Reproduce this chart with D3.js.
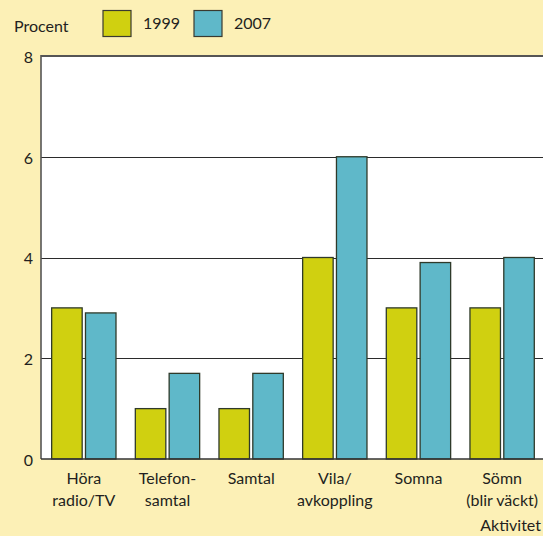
<!DOCTYPE html>
<html>
<head>
<meta charset="utf-8">
<script src="https://cdn.jsdelivr.net/npm/d3@7"></script>
<style>
  html, body { margin: 0; padding: 0; background: #fcf0b6; }
  svg { display: block; }
  text { font-family: Lato, "Open Sans", sans-serif; fill: #231f20; }
</style>
</head>
<body>
<svg id="chart" width="543" height="536"></svg>
<script>
// Activities (two-line labels) and the share per year, in percent
const categories = [
  ["Höra", "radio/TV"],
  ["Telefon-", "samtal"],
  ["Samtal"],
  ["Vila/", "avkoppling"],
  ["Somna"],
  ["Sömn", "(blir väckt)"]
];
const years = ["1999", "2007"];
const values1999 = [3, 1, 1, 4, 3, 3];
const values2007 = [2.9, 1.7, 1.7, 6, 3.9, 4];
const yTicks = [0, 2, 4, 6, 8];
const colors = { "1999": "#d0d010", "2007": "#5fb8c9" };

const series = { "1999": values1999, "2007": values2007 };
const svg = d3.select("#chart");

const plotLeft = 41, plotTop = 56, plotBottom = 459, plotRight = 560;
const fontSize = 16;

const x = d3.scaleBand()
  .domain(categories.map((d, i) => i))
  .range([42, 42 + 83.66 * 6])
  .paddingInner(0.231)
  .paddingOuter(0.1155);

const xInner = d3.scaleBand()
  .domain(years)
  .range([0, x.bandwidth()])
  .paddingInner(0.098);

const y = d3.scaleLinear().domain([0, 8]).range([plotBottom, plotTop]);

// plot background
svg.append("rect")
  .attr("x", plotLeft).attr("y", plotTop)
  .attr("width", plotRight - plotLeft).attr("height", plotBottom - plotTop)
  .attr("fill", "#ffffff");

// gridlines
svg.append("g")
  .selectAll("line")
  .data(yTicks.filter(t => t > 0 && t < 8))
  .join("line")
  .attr("x1", plotLeft).attr("x2", plotRight)
  .attr("y1", d => Math.round(y(d)) + 0.5)
  .attr("y2", d => Math.round(y(d)) + 0.5)
  .attr("stroke", "#2b2b2b").attr("stroke-width", 1.2);

// bars
const groups = svg.append("g")
  .selectAll("g")
  .data(categories)
  .join("g")
  .attr("transform", (d, i) => `translate(${x(i)},0)`);

groups.selectAll("rect")
  .data((d, i) => years.map(yr => ({ yr, v: series[yr][i] })))
  .join("rect")
  .attr("x", d => xInner(d.yr))
  .attr("width", xInner.bandwidth())
  .attr("y", d => y(d.v))
  .attr("height", d => plotBottom - y(d.v))
  .attr("fill", d => colors[d.yr])
  .attr("stroke", "#2f3a2a")
  .attr("stroke-width", 1.3);

// frame: top and left borders, baseline
svg.append("line")
  .attr("x1", plotLeft).attr("x2", plotRight)
  .attr("y1", plotTop).attr("y2", plotTop)
  .attr("stroke", "#555").attr("stroke-width", 2);
svg.append("line")
  .attr("x1", plotLeft).attr("x2", plotLeft)
  .attr("y1", plotTop - 1).attr("y2", plotBottom)
  .attr("stroke", "#555").attr("stroke-width", 1.6);
svg.append("line")
  .attr("x1", plotLeft).attr("x2", plotRight)
  .attr("y1", plotBottom).attr("y2", plotBottom)
  .attr("stroke", "#333").attr("stroke-width", 1.6);

// y axis labels
const yAxis = d3.axisLeft(y).tickValues(yTicks).tickSize(0).tickPadding(8);
const yg = svg.append("g").attr("transform", `translate(${plotLeft},0)`).call(yAxis);
yg.select(".domain").remove();
yg.selectAll("text")
  .attr("font-size", fontSize)
  .style("font-family", "Lato, 'Open Sans', sans-serif")
  .attr("fill", "#231f20")
  .attr("dy", "0.4em");

// x category labels
const xl = svg.append("g");
categories.forEach((lines, i) => {
  const t = xl.append("text")
    .attr("x", x(i) + x.bandwidth() / 2)
    .attr("y", 484)
    .attr("text-anchor", "middle")
    .attr("font-size", fontSize);
  lines.forEach((ln, j) => {
    t.append("tspan")
      .attr("x", x(i) + x.bandwidth() / 2)
      .attr("dy", j === 0 ? 0 : 22)
      .text(ln);
  });
});

svg.append("text")
  .attr("x", 541).attr("y", 531)
  .attr("text-anchor", "end")
  .attr("font-size", fontSize)
  .text("Aktivitet");

// unit label and legend
svg.append("text")
  .attr("x", 14).attr("y", 32)
  .attr("font-size", fontSize)
  .text("Procent");

const legendX = [103, 194];
years.forEach((yr, i) => {
  svg.append("rect")
    .attr("x", legendX[i]).attr("y", 10.5)
    .attr("width", 28).attr("height", 26)
    .attr("fill", colors[yr])
    .attr("stroke", "#3a3a30").attr("stroke-width", 1.2);
  svg.append("text")
    .attr("x", legendX[i] + 40).attr("y", 29)
    .attr("font-size", fontSize)
    .text(yr);
});
</script>
</body>
</html>
